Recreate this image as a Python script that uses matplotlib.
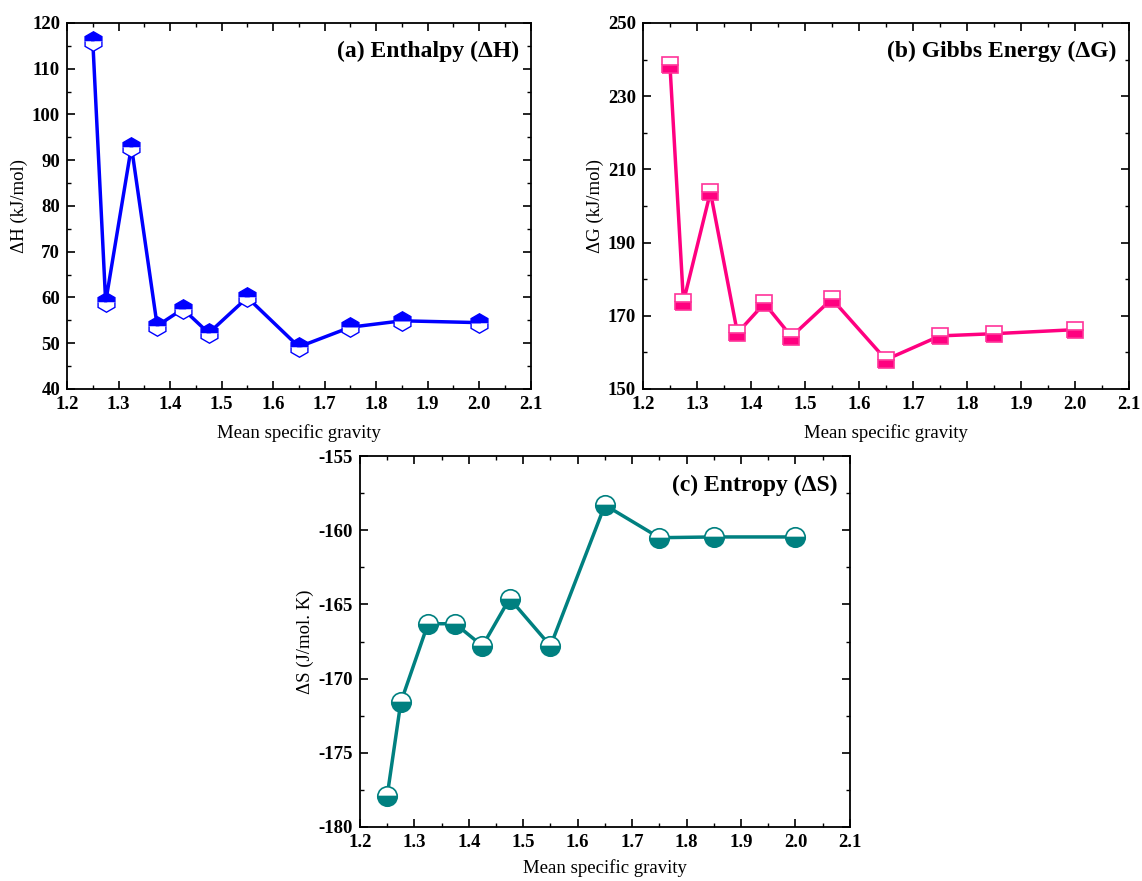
import matplotlib
matplotlib.use("Agg")
import matplotlib.pyplot as plt
from matplotlib.ticker import MultipleLocator

plt.rcParams['font.family'] = ['Liberation Serif', 'DejaVu Serif']
plt.rcParams['axes.unicode_minus'] = False

sg = [1.25, 1.275, 1.325, 1.375, 1.425, 1.475, 1.55, 1.65, 1.75, 1.85, 2.0]
dH = [116.0, 59.0, 93.0, 53.8, 57.5, 52.2, 60.0, 49.2, 53.5, 54.9, 54.5]
dG = [238.5, 173.8, 203.8, 165.3, 173.4, 164.3, 174.6, 158.0, 164.5, 165.1, 166.2]
dS = [-177.9, -171.6, -166.3, -166.3, -167.8, -164.6, -167.8, -158.3, -160.5, -160.45, -160.45]

xticks = [1.2, 1.3, 1.4, 1.5, 1.6, 1.7, 1.8, 1.9, 2.0, 2.1]
yticksA = [40, 50, 60, 70, 80, 90, 100, 110, 120]
yticksB = [150, 170, 190, 210, 230, 250]
yticksC = [-180, -175, -170, -165, -160, -155]

fig = plt.figure(figsize=(11.42, 8.81), dpi=100)
axA = fig.add_axes([0.0587, 0.5585, 0.406, 0.4154])
axB = fig.add_axes([0.563, 0.5585, 0.4255, 0.4154])
axC = fig.add_axes([0.3152, 0.0613, 0.429, 0.421])

def style(ax, yticks, ymin, ylabel, title, xpad):
    ax.set_xlim(1.2, 2.1)
    ax.set_ylim(yticks[0], yticks[-1])
    ax.set_xticks(xticks)
    ax.set_xticklabels([f"{v:.1f}" for v in xticks])
    ax.set_yticks(yticks)
    ax.set_yticklabels([str(v) for v in yticks])
    ax.xaxis.set_minor_locator(MultipleLocator(0.05))
    ax.yaxis.set_minor_locator(MultipleLocator(ymin))
    ax.tick_params(which='both', direction='in', top=True, right=True)
    ax.tick_params(which='major', length=6, width=1.2, labelsize=13.5, pad=5)
    ax.tick_params(which='minor', length=3, width=1.0)
    for lab in ax.get_xticklabels() + ax.get_yticklabels():
        lab.set_fontweight('bold')
    for sp in ax.spines.values():
        sp.set_linewidth(1.3)
    ax.set_xlabel("Mean specific gravity", fontsize=13.5, labelpad=xpad)
    ax.set_ylabel(ylabel, fontsize=13.5, labelpad=3)
    ax.text(0.975, 0.95, title, transform=ax.transAxes, ha='right', va='top',
            fontsize=17, fontweight='bold')

axA.plot(sg, dH, color='#0000FF', lw=2.5, marker='h', markersize=14,
         fillstyle='top', markerfacecolor='#0000FF', markerfacecoloralt='white',
         markeredgecolor='#0000FF', markeredgewidth=1.0)
style(axA, yticksA, 5, "ΔH (kJ/mol)", "(a) Enthalpy (ΔH)", 8)

axB.plot(sg, dG, color='#FF0080', lw=2.5, marker='s', markersize=12,
         fillstyle='bottom', markerfacecolor='#FF0080', markerfacecoloralt='white',
         markeredgecolor='#FF3399', markeredgewidth=1.2)
style(axB, yticksB, 10, "ΔG (kJ/mol)", "(b) Gibbs Energy (ΔG)", 8)

axC.plot(sg, dS, color='#008080', lw=2.5, marker='o', markersize=14,
         fillstyle='bottom', markerfacecolor='#008080', markerfacecoloralt='white',
         markeredgecolor='#008080', markeredgewidth=1.2)
style(axC, yticksC, 2.5, "ΔS (J/mol. K)", "(c) Entropy (ΔS)", 6)

fig.savefig("out.png", dpi=100)
